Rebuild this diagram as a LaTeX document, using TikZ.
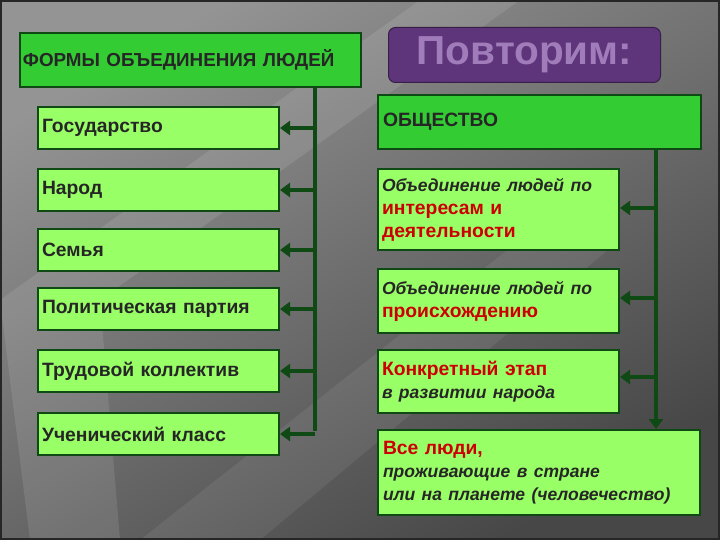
\documentclass[tikz,border=0pt]{standalone}
\usepackage{fontspec}
\setmainfont{Liberation Sans}
\usetikzlibrary{arrows.meta}
\definecolor{dg}{HTML}{0F4A14}
\definecolor{hdr}{HTML}{33CC33}
\definecolor{lg}{HTML}{99FF66}
\definecolor{rd}{HTML}{CC0000}
\definecolor{pur}{HTML}{5E347A}
\definecolor{purt}{HTML}{A07CBA}
\newcommand\itl{\itshape\fontsize{17.5}{23}\selectfont}
\tikzset{
 box/.style={draw=dg,line width=2pt,anchor=north west,inner sep=5pt,align=left,font=\bfseries\fontsize{19.3}{23}\selectfont,text=black!85},
 hbox/.style={box,fill=hdr},
 lbox/.style={box,fill=lg},
 arr/.style={draw=dg,line width=4pt,-{Triangle[length=10pt,width=14pt]}},
 trunk/.style={draw=dg,line width=4pt},
}
\begin{document}
\begin{tikzpicture}[x=1pt,y=-1pt]
\useasboundingbox (0,0) rectangle (720,540);
\shade[top color=black!42,bottom color=black!72,shading angle=30] (0,0) rectangle (720,540);
\fill[white,opacity=0.10] (0,300) -- (420,0) -- (520,0) -- (100,300) -- (120,540) -- (30,540) -- cycle;
\fill[white,opacity=0.07] (140,540) -- (520,240) -- (620,240) -- (260,540) -- cycle;
\draw[black!85,line width=2pt] (1,1) rectangle (719,539);
% header left
\node[hbox,minimum width=341,minimum height=54,text width=335,inner sep=3pt] (h) at (19,32) {\fontsize{18.8}{22}\selectfont ФОРМЫ ОБЪЕДИНЕНИЯ ЛЮДЕЙ};
% Повторим
\node[draw=pur!60!black,line width=1pt,fill=pur,rounded corners=7pt,minimum width=272,minimum height=55,anchor=north west,font=\bfseries\fontsize{40.5}{42}\selectfont,text=purt] (p) at (388,27) {Повторим:};
% left items
\foreach \n/\y/\t in {a/106/Государство,b/168/Народ,c/228/Семья,d/287/Политическая партия,e/349/Трудовой коллектив,f/412/Ученический класс}{
 \node[lbox,minimum width=241,minimum height=42,text width=233,inner sep=4pt] (\n) at (37,\y) {\t};
}
\coordinate (t0) at (315,86);
\coordinate (t1) at (315,431);
\draw[trunk] (t0) -- (t1);
\foreach \n in {a,b,c,d,e,f}{
 \draw[arr] (t0 |- \n.east) -- (\n.east);
}
% right
\node[hbox,minimum width=323,minimum height=54,text width=313] (o) at (377,94) {ОБЩЕСТВО};
\node[lbox,minimum width=241,minimum height=81,text width=233,inner sep=4pt] (r1) at (377,168) {{\itl Объединение людей по}\\{\color{rd}интересам и\\деятельности}};
\node[lbox,minimum width=241,minimum height=64,text width=233,inner sep=4pt] (r2) at (377,268) {{\itl Объединение людей по}\\{\color{rd}происхождению}};
\node[lbox,minimum width=241,minimum height=63,text width=233,inner sep=4pt] (r3) at (377,349) {{\color{rd}Конкретный этап}\\{\itl в развитии народа}};
\node[lbox,minimum width=322,minimum height=85,text width=312] (r4) at (377,429) {{\color{rd}Все люди,}\\{\itl проживающие в стране}\\{\itl или на планете (человечество)}};
\coordinate (s0) at (656,148);
\coordinate (y1) at (0,208);
\coordinate (y2) at (0,298);
\coordinate (y3) at (0,377);
\draw[arr] (s0) -- (s0 |- r4.north);
\draw[arr] (s0 |- y1) -- (r1.east |- y1);
\draw[arr] (s0 |- y2) -- (r2.east |- y2);
\draw[arr] (s0 |- y3) -- (r3.east |- y3);
\end{tikzpicture}
\end{document}
